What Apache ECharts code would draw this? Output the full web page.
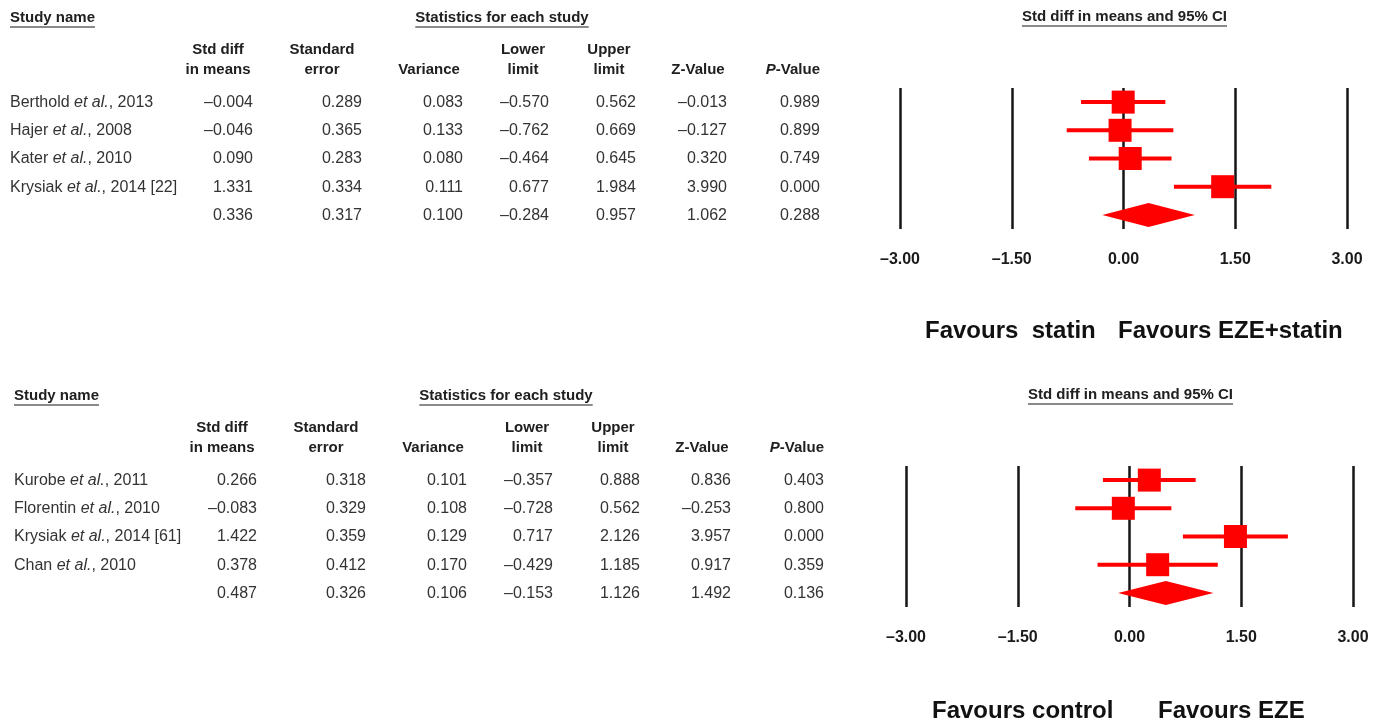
<!DOCTYPE html>
<html><head><meta charset="utf-8">
<script src="https://cdn.jsdelivr.net/npm/echarts@6/dist/echarts.min.js"></script>
<style>html,body{margin:0;padding:0;background:#fff}#c{width:1379px;height:722px}</style>
</head><body><div id="c"></div>
<script>
// ---------- DATA: panel A (EZE+statin vs statin) ----------
var studiesA = ["Berthold et al., 2013", "Hajer et al., 2008", "Kater et al., 2010", "Krysiak et al., 2014 [22]", ""];
var smdA   = [-0.004, -0.046, 0.090, 1.331, 0.336];
var seA    = [0.289, 0.365, 0.283, 0.334, 0.317];
var varA   = [0.083, 0.133, 0.080, 0.111, 0.100];
var lowerA = [-0.570, -0.762, -0.464, 0.677, -0.284];
var upperA = [0.562, 0.669, 0.645, 1.984, 0.957];
var zA     = [-0.013, -0.127, 0.320, 3.990, 1.062];
var pA     = [0.989, 0.899, 0.749, 0.000, 0.288];
var favoursA = ["Favours  statin", "Favours EZE+statin"];

// ---------- DATA: panel B (EZE vs control) ----------
var studiesB = ["Kurobe et al., 2011", "Florentin et al., 2010", "Krysiak et al., 2014 [61]", "Chan et al., 2010", ""];
var smdB   = [0.266, -0.083, 1.422, 0.378, 0.487];
var seB    = [0.318, 0.329, 0.359, 0.412, 0.326];
var varB   = [0.101, 0.108, 0.129, 0.170, 0.106];
var lowerB = [-0.357, -0.728, 0.717, -0.429, -0.153];
var upperB = [0.888, 0.562, 2.126, 1.185, 1.126];
var zB     = [0.836, -0.253, 3.957, 0.917, 1.492];
var pB     = [0.403, 0.800, 0.000, 0.359, 0.136];
var favoursB = ["Favours control", "Favours EZE"];

// ---------- Axis / header labels ----------
var axisMin = -3, axisMax = 3, axisStep = 1.5;
var titleStudy = "Study name";
var titleStats = "Statistics for each study";
var titleForest = "Std diff in means and 95% CI";
var colHeads = [["Std diff", "in means"], ["Standard", "error"], ["", "Variance"], ["Lower", "limit"], ["Upper", "limit"], ["", "Z-Value"], ["", "{pi|P}{pb|-Value}"]];

// ---------- Rendering ----------
var FONT = 'Liberation Sans';
var chart = echarts.init(document.getElementById('c'), null, {renderer: 'canvas'});
var RED = '#ff0000';

function fmt(v, d) { return (v < 0 ? '\u2013' : '') + Math.abs(v).toFixed(d); }

function forestData(smd, lo, hi) {
  return smd.map(function (m, i) { return [m, lo[i], hi[i], i, i === smd.length - 1 ? 1 : 0]; });
}

function renderItem(params, api) {
  var row = api.value(3);
  var c = api.coord([api.value(0), row]);
  var l = api.coord([api.value(1), row]);
  var h = api.coord([api.value(2), row]);
  if (api.value(4)) {
    var hh = 12;
    return {type: 'polygon', shape: {points: [[l[0], c[1]], [c[0], c[1] - hh], [h[0], c[1]], [c[0], c[1] + hh]]},
      style: {fill: RED}};
  }
  var s = 11.5;
  return {type: 'group', children: [
    {type: 'line', shape: {x1: l[0], y1: l[1], x2: h[0], y2: h[1]}, style: {stroke: RED, lineWidth: 4}},
    {type: 'rect', shape: {x: c[0] - s, y: c[1] - s, width: 2 * s, height: 2 * s}, style: {fill: RED}}
  ]};
}

var cats = ['0', '1', '2', '3', '4'];
var grids = [{left: 900, top: 88, width: 447, height: 141}, {left: 906, top: 466, width: 447, height: 141}];

function xAx(gi) {
  return {gridIndex: gi, type: 'value', min: axisMin, max: axisMax, interval: axisStep,
    axisLine: {show: false}, axisTick: {show: false},
    splitLine: {show: true, showMinLine: true, showMaxLine: true, lineStyle: {color: '#151515', width: 2.5}},
    axisLabel: {margin: 23, fontWeight: 'bold', fontSize: 16, color: '#1a1a1a', fontFamily: FONT,
      formatter: function (v) { return fmt(v, 2); }}};
}
function yAx(gi) { return {gridIndex: gi, type: 'category', data: cats, inverse: true, show: false}; }

chart.setOption({
  animation: false,
  backgroundColor: '#fff',
  grid: grids,
  xAxis: [xAx(0), xAx(1)],
  yAxis: [yAx(0), yAx(1)],
  series: [
    {type: 'custom', xAxisIndex: 0, yAxisIndex: 0, renderItem: renderItem, encode: {x: [0, 1, 2], y: 3}, data: forestData(smdA, lowerA, upperA), silent: true, clip: false},
    {type: 'custom', xAxisIndex: 1, yAxisIndex: 1, renderItem: renderItem, encode: {x: [0, 1, 2], y: 3}, data: forestData(smdB, lowerB, upperB), silent: true, clip: false}
  ]
});

// ---------- Table text via graphic ----------
var mctx = document.createElement('canvas').getContext('2d');
function textW(t, f) { mctx.font = (f.bold ? 'bold ' : '') + f.size + 'px "' + FONT + '"'; return mctx.measureText(t).width; }

var HF = {size: 15, bold: true}, VF = {size: 16, bold: false}, FF = {size: 24, bold: true};
var HCOL = '#202020', VCOL = '#333333';
var g = [];

function txt(x, y, text, f, color, align, rich) {
  var st = {text: text, fontSize: f.size, fontWeight: f.bold ? 'bold' : 'normal', fontFamily: FONT,
    fill: color, align: align || 'left', verticalAlign: 'middle'};
  if (rich) st.rich = rich;
  g.push({type: 'text', x: x, y: y, style: st, silent: true});
}
function underlined(x, y, text, align) {
  txt(x, y, text, HF, HCOL, align);
  var w = textW(text, HF);
  var x0 = align === 'center' ? x - w / 2 : x;
  g.push({type: 'line', shape: {x1: x0, y1: y + 9.5, x2: x0 + w, y2: y + 9.5}, style: {stroke: '#8a8a8a', lineWidth: 2}, silent: true});
}
function nameRich(name) {
  var k = name.indexOf('et al.');
  if (k < 0) return name ? '{n|' + name + '}' : '';
  return '{n|' + name.slice(0, k) + '}{i|et al.}{n|' + name.slice(k + 6) + '}';
}
var nameStyles = {
  n: {fontSize: 16, fontFamily: FONT, color: VCOL},
  i: {fontSize: 16, fontFamily: FONT, color: VCOL, fontStyle: 'italic'},
  pi: {fontSize: 15, fontFamily: FONT, color: HCOL, fontWeight: 'bold', fontStyle: 'italic'},
  pb: {fontSize: 15, fontFamily: FONT, color: HCOL, fontWeight: 'bold'}
};

function panel(pi, dx, studies, cols, favours, favX) {
  var rowsY = cats.map(function (c, i) { return chart.convertToPixel({yAxisIndex: pi}, i); });
  var y0 = rowsY[0] + 0.5;
  var zeroX = chart.convertToPixel({xAxisIndex: pi}, 0);
  // titles
  underlined(10 + dx, y0 - 85, titleStudy, 'left');
  underlined(502 + dx, y0 - 85, titleStats, 'center');
  underlined(zeroX + 1, y0 - 86, titleForest, 'center');
  // column headers
  var rights = [253, 362, 463, 549, 636, 727, 820];
  var centers = [218, 322, 429, 523, 609, 698, 790];
  colHeads.forEach(function (h, j) {
    if (h[0]) txt(centers[j] + dx, y0 - 53, h[0], HF, HCOL, 'center');
    if (h[1].indexOf('{') === 0) txt(rights[j] + dx, y0 - 33, h[1], HF, HCOL, 'right', nameStyles);
    else txt(centers[j] + dx, y0 - 33, h[1], HF, HCOL, 'center');
  });
  // rows
  rowsY.forEach(function (y, i) {
    var yy = y + 0.5;
    if (studies[i]) txt(10 + dx, yy, nameRich(studies[i]), VF, VCOL, 'left', nameStyles);
    cols.forEach(function (arr, j) { txt(rights[j] + dx, yy, fmt(arr[i], 3), VF, VCOL, 'right'); });
  });
  // favours
  txt(favX[0], favX[2], favours[0], FF, '#111', 'left');
  txt(favX[1], favX[2], favours[1], FF, '#111', 'left');
}

panel(0, 0, studiesA, [smdA, seA, varA, lowerA, upperA, zA, pA], favoursA, [925, 1118, 331]);
panel(1, 4, studiesB, [smdB, seB, varB, lowerB, upperB, zB, pB], favoursB, [932, 1158, 711]);

chart.setOption({graphic: {elements: g}});
</script>
</body></html>
